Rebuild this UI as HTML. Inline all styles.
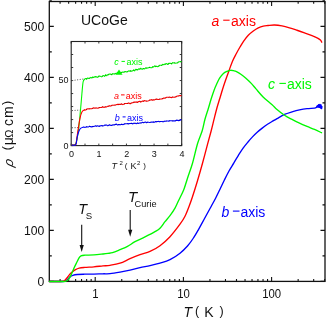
<!DOCTYPE html>
<html><head><meta charset="utf-8"><title>UCoGe resistivity</title>
<style>html,body{margin:0;padding:0;background:#fff}body{width:327px;height:320px;overflow:hidden;font-family:"Liberation Sans",sans-serif}</style></head>
<body>
<svg width="327" height="320" viewBox="0 0 327 320" style="display:block;will-change:transform;font-family:'Liberation Sans',sans-serif">
<rect width="327" height="320" fill="#fff"/>
<g stroke="#111" stroke-width="1.3" fill="none">
<rect x="49.30" y="1.50" width="275.70" height="279.90"/>
<path stroke-width="1.1" d="M49.30,281.40h4.50M325.00,281.40h-4.50M49.30,255.90h2.50M325.00,255.90h-2.50M49.30,230.40h4.50M325.00,230.40h-4.50M49.30,204.90h2.50M325.00,204.90h-2.50M49.30,179.40h4.50M325.00,179.40h-4.50M49.30,153.90h2.50M325.00,153.90h-2.50M49.30,128.40h4.50M325.00,128.40h-4.50M49.30,102.90h2.50M325.00,102.90h-2.50M49.30,77.40h4.50M325.00,77.40h-4.50M49.30,51.90h2.50M325.00,51.90h-2.50M49.30,26.40h4.50M325.00,26.40h-4.50M49.30,0.90h2.50M325.00,0.90h-2.50M60.10,281.40v-2.30M60.10,1.50v2.30M68.65,281.40v-2.30M68.65,1.50v2.30M75.63,281.40v-2.30M75.63,1.50v2.30M81.54,281.40v-2.30M81.54,1.50v2.30M86.65,281.40v-2.30M86.65,1.50v2.30M91.16,281.40v-2.30M91.16,1.50v2.30M95.20,281.40v-4.50M95.20,1.50v4.50M121.75,281.40v-2.30M121.75,1.50v2.30M137.28,281.40v-2.30M137.28,1.50v2.30M148.30,281.40v-2.30M148.30,1.50v2.30M156.85,281.40v-2.30M156.85,1.50v2.30M163.83,281.40v-2.30M163.83,1.50v2.30M169.74,281.40v-2.30M169.74,1.50v2.30M174.85,281.40v-2.30M174.85,1.50v2.30M179.36,281.40v-2.30M179.36,1.50v2.30M183.40,281.40v-4.50M183.40,1.50v4.50M209.95,281.40v-2.30M209.95,1.50v2.30M225.48,281.40v-2.30M225.48,1.50v2.30M236.50,281.40v-2.30M236.50,1.50v2.30M245.05,281.40v-2.30M245.05,1.50v2.30M252.03,281.40v-2.30M252.03,1.50v2.30M257.94,281.40v-2.30M257.94,1.50v2.30M263.05,281.40v-2.30M263.05,1.50v2.30M267.56,281.40v-2.30M267.56,1.50v2.30M271.60,281.40v-4.50M271.60,1.50v4.50M298.15,281.40v-2.30M298.15,1.50v2.30M313.68,281.40v-2.30M313.68,1.50v2.30M324.70,281.40v-2.30M324.70,1.50v2.30"/>
</g>
<g fill="none" stroke-width="1.35" stroke-linejoin="round" stroke-linecap="round">
<path stroke="#0000ff" d="M49.50,281.50C50.92,281.50 55.58,281.53 58.00,281.50C60.42,281.47 62.45,281.60 64.00,281.30C65.55,281.00 66.30,280.43 67.30,279.70C68.30,278.97 69.08,277.62 70.00,276.90C70.92,276.18 71.57,275.80 72.80,275.40C74.03,275.00 75.42,274.70 77.40,274.50C79.38,274.30 81.95,274.27 84.70,274.20C87.45,274.13 90.85,274.17 93.90,274.10C96.95,274.03 100.32,273.87 103.00,273.80C105.68,273.73 107.17,273.97 110.00,273.70C112.83,273.43 116.67,272.78 120.00,272.20C123.33,271.62 126.67,270.95 130.00,270.20C133.33,269.45 136.67,268.45 140.00,267.70C143.33,266.95 146.67,266.45 150.00,265.70C153.33,264.95 156.67,264.20 160.00,263.20C163.33,262.20 166.67,261.37 170.00,259.70C173.33,258.03 177.08,255.48 180.00,253.20C182.92,250.92 185.32,248.45 187.50,246.00C189.68,243.55 191.22,241.32 193.10,238.50C194.97,235.68 196.87,232.38 198.75,229.10C200.63,225.82 202.53,222.23 204.40,218.80C206.28,215.37 208.13,211.93 210.00,208.50C211.87,205.07 213.93,201.42 215.60,198.20C217.27,194.98 218.53,192.23 220.00,189.20C221.47,186.17 222.90,183.03 224.40,180.00C225.90,176.97 227.44,173.82 229.00,171.00C230.56,168.18 232.18,165.72 233.75,163.10C235.32,160.48 236.84,157.80 238.40,155.30C239.96,152.80 241.53,150.28 243.10,148.10C244.67,145.92 246.23,144.07 247.80,142.20C249.37,140.33 250.93,138.55 252.50,136.90C254.07,135.25 255.63,133.72 257.20,132.30C258.77,130.88 260.18,129.73 261.90,128.40C263.62,127.07 265.63,125.55 267.50,124.30C269.37,123.05 271.52,121.85 273.10,120.90C274.68,119.95 275.10,119.68 277.00,118.60C278.90,117.53 282.00,115.56 284.50,114.45C287.00,113.34 289.50,112.70 292.00,111.95C294.50,111.20 297.00,110.49 299.50,109.95C302.00,109.41 304.50,108.99 307.00,108.70C309.50,108.41 312.92,108.43 314.50,108.20C316.08,107.97 316.17,107.45 316.50,107.30"/>
<path stroke="#0000ff" stroke-width="1.5" d="M316.50,107.30L317.30,105.90L318.00,107.10L318.60,104.70L319.30,107.30L319.90,104.50L320.50,107.90L321.00,105.10L321.50,108.50L321.90,106.70"/>
<path stroke="#ff0000" d="M49.50,281.50C50.92,281.50 55.65,281.55 58.00,281.50C60.35,281.45 62.22,281.67 63.60,281.20C64.98,280.73 65.38,279.72 66.30,278.70C67.22,277.68 68.17,276.17 69.10,275.10C70.03,274.03 70.83,273.22 71.90,272.30C72.97,271.38 74.28,270.30 75.50,269.60C76.72,268.90 77.67,268.47 79.20,268.10C80.73,267.73 82.25,267.62 84.70,267.40C87.15,267.18 90.85,267.05 93.90,266.80C96.95,266.55 100.32,266.15 103.00,265.90C105.68,265.65 107.17,265.75 110.00,265.30C112.83,264.85 116.67,264.30 120.00,263.20C123.33,262.10 126.67,260.12 130.00,258.70C133.33,257.28 136.67,255.91 140.00,254.70C143.33,253.49 146.67,252.95 150.00,251.45C153.33,249.95 156.67,248.16 160.00,245.70C163.33,243.24 166.67,240.28 170.00,236.70C173.33,233.12 177.50,227.62 180.00,224.20C182.50,220.78 183.45,219.28 185.00,216.20C186.55,213.12 188.07,208.90 189.30,205.70C190.53,202.50 191.03,201.17 192.40,197.00C193.77,192.83 195.82,186.33 197.50,180.70C199.18,175.07 200.83,169.24 202.50,163.20C204.17,157.16 206.05,149.87 207.50,144.45C208.95,139.03 210.12,134.87 211.20,130.70C212.28,126.53 213.06,123.20 214.00,119.45C214.94,115.70 215.90,111.64 216.85,108.20C217.80,104.76 218.76,101.92 219.70,98.80C220.64,95.67 221.57,92.42 222.50,89.45C223.43,86.48 224.25,84.04 225.30,81.00C226.35,77.96 227.60,74.50 228.80,71.20C230.00,67.90 231.26,64.12 232.50,61.20C233.74,58.28 235.00,56.07 236.25,53.70C237.50,51.33 238.79,49.07 240.00,47.00C241.21,44.93 242.12,43.25 243.50,41.30C244.88,39.35 246.67,37.02 248.30,35.30C249.93,33.58 251.63,32.23 253.30,31.00C254.97,29.77 256.63,28.72 258.30,27.90C259.97,27.08 261.68,26.50 263.30,26.10C264.92,25.70 266.13,25.68 268.00,25.50C269.87,25.32 272.17,24.93 274.50,25.00C276.83,25.07 279.50,25.43 282.00,25.90C284.50,26.37 287.00,27.07 289.50,27.80C292.00,28.53 294.50,29.40 297.00,30.25C299.50,31.10 302.00,31.99 304.50,32.90C307.00,33.81 309.82,34.83 312.00,35.70C314.18,36.57 316.20,37.38 317.60,38.10C319.00,38.82 319.71,39.32 320.40,40.00C321.09,40.68 321.52,41.83 321.75,42.20"/>
<path stroke="#00f800" d="M49.50,281.50C50.92,281.50 55.35,281.53 58.00,281.50C60.65,281.47 63.70,281.60 65.40,281.30C67.10,281.00 67.27,280.73 68.20,279.70C69.13,278.67 70.08,276.93 71.00,275.10C71.92,273.27 72.80,270.70 73.70,268.70C74.60,266.70 75.48,264.93 76.40,263.10C77.32,261.27 78.43,258.92 79.20,257.70C79.97,256.48 80.08,256.22 81.00,255.80C81.92,255.38 82.55,255.35 84.70,255.20C86.85,255.05 90.85,255.10 93.90,254.90C96.95,254.70 100.65,254.25 103.00,254.00C105.35,253.75 106.42,253.62 108.00,253.40C109.58,253.18 110.50,253.32 112.50,252.70C114.50,252.08 117.50,250.75 120.00,249.70C122.50,248.65 125.00,247.73 127.50,246.40C130.00,245.07 132.08,243.27 135.00,241.70C137.92,240.12 141.67,238.62 145.00,236.95C148.33,235.28 152.50,233.16 155.00,231.70C157.50,230.24 158.33,229.87 160.00,228.20C161.67,226.53 163.33,223.78 165.00,221.70C166.67,219.62 168.33,217.95 170.00,215.70C171.67,213.45 173.54,210.78 175.00,208.20C176.46,205.62 177.29,203.28 178.75,200.20C180.21,197.12 182.29,193.37 183.75,189.70C185.21,186.03 186.04,182.62 187.50,178.20C188.96,173.78 190.83,168.95 192.50,163.20C194.17,157.45 195.88,149.12 197.50,143.70C199.12,138.28 200.97,134.74 202.20,130.70C203.43,126.66 203.87,123.20 204.90,119.45C205.93,115.70 207.35,111.64 208.40,108.20C209.45,104.76 210.27,101.77 211.20,98.80C212.13,95.83 213.07,92.90 214.00,90.40C214.93,87.90 215.87,85.83 216.80,83.80C217.73,81.77 218.50,79.92 219.60,78.20C220.70,76.48 222.15,74.65 223.40,73.50C224.65,72.35 225.92,71.83 227.10,71.30C228.28,70.77 229.43,70.40 230.50,70.30C231.57,70.20 232.50,70.48 233.50,70.70C234.50,70.92 235.22,70.98 236.50,71.60C237.78,72.23 239.63,73.35 241.20,74.45C242.77,75.55 244.18,76.67 245.90,78.20C247.62,79.73 249.82,81.82 251.50,83.60C253.18,85.38 254.07,86.68 256.00,88.90C257.93,91.12 260.46,94.36 263.10,96.95C265.74,99.54 269.53,102.37 271.85,104.45C274.17,106.53 274.89,107.66 277.00,109.45C279.11,111.24 282.00,113.53 284.50,115.20C287.00,116.87 289.50,118.12 292.00,119.45C294.50,120.78 297.00,122.03 299.50,123.20C302.00,124.37 304.50,125.41 307.00,126.45C309.50,127.49 312.08,128.41 314.50,129.45C316.92,130.49 320.33,132.16 321.50,132.70"/>
</g>
<rect x="71.20" y="41.50" width="110.50" height="104.10" fill="#fff" stroke="#222" stroke-width="1.1"/>
<path stroke="#222" stroke-width="0.9" fill="none" d="M71.20,145.60h2M181.70,145.60h-2M71.20,145.60v-2M71.20,41.50v2M71.20,132.59h2M181.70,132.59h-2M85.01,145.60v-2M85.01,41.50v2M71.20,119.57h2M181.70,119.57h-2M98.83,145.60v-2M98.83,41.50v2M71.20,106.56h2M181.70,106.56h-2M112.64,145.60v-2M112.64,41.50v2M71.20,93.55h2M181.70,93.55h-2M126.45,145.60v-2M126.45,41.50v2M71.20,80.54h2M181.70,80.54h-2M140.26,145.60v-2M140.26,41.50v2M71.20,67.53h2M181.70,67.53h-2M154.07,145.60v-2M154.07,41.50v2M71.20,54.51h2M181.70,54.51h-2M167.89,145.60v-2M167.89,41.50v2M71.20,41.50h2M181.70,41.50h-2M181.70,145.60v-2M181.70,41.50v2"/>
<g stroke="#555" stroke-width="1" stroke-dasharray="1,1.6" fill="none">
<path d="M72,80.6L84,78.9"/><path d="M72,110.6L81,110"/><path d="M72,127.8L80,127.5"/>
</g>
<g fill="none" stroke-width="1.1" stroke-linejoin="round">
<path stroke="#00f800" d="M71.50,145.00C72.15,144.88 74.45,145.43 75.40,144.30C76.35,143.17 76.62,141.17 77.20,138.20C77.78,135.23 78.35,131.20 78.90,126.50C79.45,121.80 80.00,115.47 80.50,110.00C81.00,104.53 81.47,98.37 81.90,93.70C82.33,89.03 82.63,84.42 83.10,82.00C83.57,79.58 84.43,79.67 84.70,79.20L84.70,78.92L85.70,78.46L86.70,79.08L87.70,77.97L88.70,78.53L89.70,78.08L90.70,77.40L91.70,77.94L92.70,77.01L93.70,77.46L94.70,76.69L95.70,76.55L96.70,76.90L97.70,77.36L98.70,76.05L99.70,76.03L100.70,76.49L101.70,76.83L102.70,76.05L103.70,75.58L104.70,76.33L105.70,74.66L106.70,75.77L107.70,74.68L108.70,74.27L109.70,74.04L110.70,74.17L111.70,74.80L112.70,73.60L113.70,74.06L114.70,73.97L115.70,73.36L116.70,73.46L117.70,72.50L118.70,72.31L119.70,72.37L120.70,72.94L121.70,72.36L122.70,71.99L123.70,72.25L124.70,71.85L125.70,71.43L126.70,72.03L127.70,71.70L128.70,70.79L129.70,71.14L130.70,70.88L131.70,71.25L132.70,70.84L133.70,69.95L134.70,70.88L135.70,69.32L136.70,69.61L137.70,69.98L138.70,68.82L139.70,69.18L140.70,68.28L141.70,69.11L142.70,69.08L143.70,68.59L144.70,68.89L145.70,67.81L146.70,68.24L147.70,67.90L148.70,67.69L149.70,67.31L150.70,67.74L151.70,67.73L152.70,66.79L153.70,66.92L154.70,65.77L155.70,66.61L156.70,66.34L157.70,66.72L158.70,66.26L159.70,65.22L160.70,65.20L161.70,65.47L162.70,64.25L163.70,64.78L164.70,64.12L165.70,63.86L166.70,63.59L167.70,64.54L168.70,63.33L169.70,63.34L170.70,63.39L171.70,63.98L172.70,62.53L173.70,62.94L174.70,62.92L175.70,63.27L176.70,62.98L177.70,62.87L178.70,61.75L179.70,61.79L180.70,61.52L181.50,61.60"/>
<path stroke="#ff0000" d="M71.50,145.00C72.18,144.93 74.77,145.33 75.60,144.60C76.43,143.87 76.07,143.22 76.50,140.60C76.93,137.98 77.62,132.62 78.20,128.90C78.78,125.18 79.38,121.12 80.00,118.30C80.62,115.48 81.12,113.43 81.90,112.00C82.68,110.57 84.23,110.08 84.70,109.70L84.70,110.12L85.70,110.06L86.70,109.03L87.70,108.91L88.70,108.83L89.70,108.68L90.70,108.82L91.70,108.79L92.70,108.28L93.70,107.85L94.70,108.16L95.70,107.97L96.70,108.04L97.70,108.32L98.70,107.88L99.70,107.55L100.70,107.52L101.70,107.44L102.70,106.61L103.70,107.39L104.70,107.12L105.70,107.07L106.70,106.85L107.70,106.26L108.70,106.12L109.70,105.65L110.70,106.09L111.70,105.31L112.70,105.17L113.70,105.19L114.70,104.99L115.70,105.04L116.70,104.58L117.70,104.38L118.70,104.40L119.70,104.20L120.70,104.34L121.70,103.83L122.70,104.62L123.70,104.18L124.70,103.53L125.70,103.50L126.70,103.46L127.70,103.33L128.70,102.92L129.70,103.58L130.70,103.59L131.70,102.87L132.70,102.74L133.70,102.16L134.70,102.03L135.70,102.15L136.70,101.92L137.70,102.40L138.70,101.52L139.70,101.22L140.70,102.10L141.70,101.49L142.70,100.92L143.70,101.21L144.70,100.50L145.70,100.91L146.70,101.26L147.70,100.99L148.70,100.66L149.70,100.04L150.70,100.01L151.70,99.64L152.70,100.16L153.70,99.76L154.70,99.88L155.70,99.24L156.70,98.98L157.70,99.48L158.70,99.53L159.70,99.24L160.70,99.04L161.70,98.91L162.70,98.68L163.70,97.97L164.70,98.15L165.70,97.83L166.70,97.32L167.70,97.18L168.70,97.31L169.70,97.14L170.70,97.47L171.70,97.62L172.70,96.91L173.70,97.31L174.70,97.22L175.70,97.04L176.70,96.25L177.70,95.94L178.70,95.80L179.70,95.63L180.70,95.49L181.50,95.70"/>
<path stroke="#0000ff" d="M71.50,145.00C72.22,144.93 74.85,145.93 75.80,144.60C76.75,143.27 76.68,139.23 77.20,137.00C77.72,134.77 78.35,132.63 78.90,131.20C79.45,129.77 79.72,129.10 80.50,128.40C81.28,127.70 83.08,127.23 83.60,127.00L83.60,127.12L84.60,127.33L85.60,127.20L86.60,126.76L87.60,126.87L88.60,126.94L89.60,126.16L90.60,126.66L91.60,126.84L92.60,126.64L93.60,126.54L94.60,126.19L95.60,125.82L96.60,126.36L97.60,125.83L98.60,126.23L99.60,126.33L100.60,125.68L101.60,125.61L102.60,126.09L103.60,125.79L104.60,125.17L105.60,125.05L106.60,125.01L107.60,125.69L108.60,125.52L109.60,124.79L110.60,125.40L111.60,125.48L112.60,125.08L113.60,124.71L114.60,124.83L115.60,124.34L116.60,124.15L117.60,125.04L118.60,124.65L119.60,124.45L120.60,124.79L121.60,124.22L122.60,124.58L123.60,124.47L124.60,123.78L125.60,123.75L126.60,123.72L127.60,123.59L128.60,123.87L129.60,123.47L130.60,123.56L131.60,123.20L132.60,123.91L133.60,123.28L134.60,123.31L135.60,123.37L136.60,123.61L137.60,123.06L138.60,123.49L139.60,123.00L140.60,122.96L141.60,122.88L142.60,122.30L143.60,122.65L144.60,122.32L145.60,122.07L146.60,122.79L147.60,122.10L148.60,122.33L149.60,122.51L150.60,122.27L151.60,121.96L152.60,122.08L153.60,122.05L154.60,122.21L155.60,121.46L156.60,121.84L157.60,121.46L158.60,121.41L159.60,121.84L160.60,121.50L161.60,121.48L162.60,121.61L163.60,121.69L164.60,121.15L165.60,121.25L166.60,121.07L167.60,121.01L168.60,121.12L169.60,120.80L170.60,120.81L171.60,120.69L172.60,121.08L173.60,120.76L174.60,120.87L175.60,120.86L176.60,120.11L177.60,120.34L178.60,120.65L179.60,120.48L180.60,119.70L181.50,120.00"/>
</g>
<g stroke-width="0.9" stroke-dasharray="1,2.2" fill="none" opacity="0.55">
<path stroke="#004000" d="M86,79L181.5,61.6"/>
<path stroke="#500000" d="M86,109.5L181.5,95.7"/>
<path stroke="#000050" d="M86,126.8L181.5,120"/>
</g>
<path fill="#00f800" d="M119,69.6l3.6,5.1h-7.2z"/>
<path d="M81.70,224.80V247.00" stroke="#111" stroke-width="1.1"/><path d="M81.70,252.00l-2.1,-7h4.2z" fill="#111"/>
<path d="M130.20,210.00V231.80" stroke="#111" stroke-width="1.1"/><path d="M130.20,236.80l-2.1,-7h4.2z" fill="#111"/>
<g fill="#111" opacity="0.999">
<text x="81" y="25.4" font-size="14">UCoGe</text>
<text x="44.3" y="285.90" font-size="12.2" text-anchor="end">0</text>
<text x="44.3" y="234.90" font-size="12.2" text-anchor="end">100</text>
<text x="44.3" y="183.90" font-size="12.2" text-anchor="end">200</text>
<text x="44.3" y="132.90" font-size="12.2" text-anchor="end">300</text>
<text x="44.3" y="81.90" font-size="12.2" text-anchor="end">400</text>
<text x="44.3" y="30.90" font-size="12.2" text-anchor="end">500</text>
<text transform="translate(95.30,297.9) scale(0.91,1)" font-size="12.5" text-anchor="middle">1</text>
<text transform="translate(183.50,297.9) scale(0.91,1)" font-size="12.5" text-anchor="middle">10</text>
<text transform="translate(271.70,297.9) scale(0.91,1)" font-size="12.5" text-anchor="middle">100</text>
<text x="183.6" y="317" font-size="14" font-style="italic">T</text>
<text x="194.9" y="315.4" font-size="12.5">(</text>
<text x="204.3" y="317" font-size="14">K</text>
<text x="219.6" y="315.4" font-size="12.5">)</text>
<g transform="translate(13,0) rotate(-90)">
<text transform="translate(-167.3,-0.3) skewX(-14)" font-size="13" font-style="italic">ρ</text>
<text x="-150.20" y="-2.40" font-size="12.5" >(</text>
<text x="-145.30" y="0.00" font-size="14" >μ</text>
<text x="-137.70" y="0.00" font-size="11.8" textLength="8.2" lengthAdjust="spacingAndGlyphs">Ω</text>
<text x="-126.00" y="0.00" font-size="14" >c</text>
<text x="-118.00" y="0.00" font-size="14" >m</text>
<text x="-104.90" y="-2.40" font-size="12.5" >)</text>
</g>
<text x="78.2" y="214.1" font-size="14.4" font-style="italic">T</text>
<text x="85.7" y="219.1" font-size="9.6">S</text>
<text x="127.9" y="201.9" font-size="15" font-style="italic">T</text>
<text x="134.6" y="207.1" font-size="9.2">Curie</text>
<text x="71.50" y="157.2" font-size="9" text-anchor="middle">0</text>
<text x="99.12" y="157.2" font-size="9" text-anchor="middle">1</text>
<text x="126.75" y="157.2" font-size="9" text-anchor="middle">2</text>
<text x="154.38" y="157.2" font-size="9" text-anchor="middle">3</text>
<text x="182.00" y="157.2" font-size="9" text-anchor="middle">4</text>
<text x="68.6" y="83.3" font-size="9" text-anchor="end">50</text>
<text x="68.6" y="148.6" font-size="9" text-anchor="end">0</text>
<text x="111.5" y="168.7" font-size="9" font-style="italic">T</text>
<text x="119.6" y="165.3" font-size="6">2</text>
<text x="124.7" y="168.0" font-size="8">(</text>
<text x="130.6" y="168.7" font-size="9">K</text>
<text x="137.0" y="165.3" font-size="6">2</text>
<text x="143.3" y="168.0" font-size="8">)</text>
</g>
<g fill="#ff0000" opacity="0.999"><text x="211.50" y="26.00" font-size="14" font-style="italic">a</text><path d="M223.20,20.20H229.60" stroke="#ff0000" stroke-width="1.10"/><text x="231.00" y="26.00" font-size="14">axis</text></g>
<g fill="#00f800" opacity="0.999"><text x="268.00" y="89.20" font-size="14" font-style="italic">c</text><path d="M279.40,83.40H285.90" stroke="#00f800" stroke-width="1.10"/><text x="286.90" y="89.20" font-size="14">axis</text></g>
<g fill="#0000ff" opacity="0.999"><text x="221.60" y="216.90" font-size="14" font-style="italic">b</text><path d="M232.90,211.10H239.50" stroke="#0000ff" stroke-width="1.10"/><text x="240.40" y="216.90" font-size="14">axis</text></g>
<g fill="#00f800" opacity="0.999"><text x="114.30" y="65.00" font-size="9" font-style="italic">c</text><path d="M121.50,61.40H124.90" stroke="#00f800" stroke-width="1.00"/><text x="126.40" y="65.00" font-size="9">axis</text></g>
<g fill="#ff0000" opacity="0.999"><text x="114.00" y="98.50" font-size="9" font-style="italic">a</text><path d="M121.00,94.90H124.60" stroke="#ff0000" stroke-width="1.00"/><text x="125.80" y="98.50" font-size="9">axis</text></g>
<g fill="#0000ff" opacity="0.999"><text x="114.80" y="120.50" font-size="9" font-style="italic">b</text><path d="M122.60,116.90H125.60" stroke="#0000ff" stroke-width="1.00"/><text x="126.90" y="120.50" font-size="9">axis</text></g>
</svg>
</body></html>
